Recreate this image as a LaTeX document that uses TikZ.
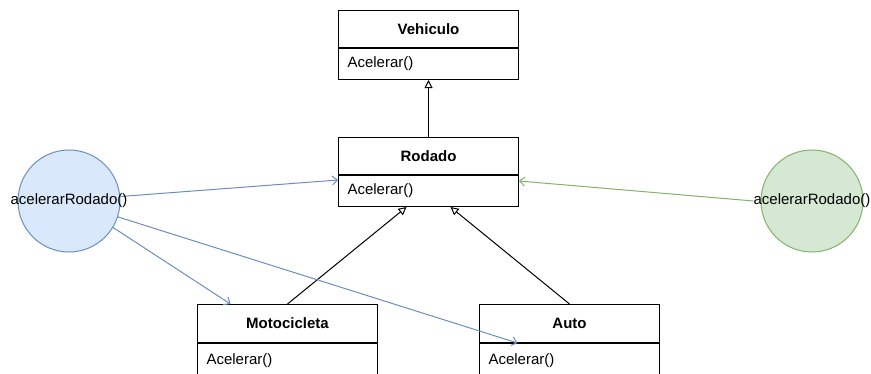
\documentclass[tikz,border=0pt]{standalone}
\usepackage{fontspec}
\setmainfont{Liberation Sans}
\usetikzlibrary{arrows.meta,calc}
\definecolor{bluefill}{HTML}{DAE8FC}
\definecolor{bluestroke}{HTML}{6C8EBF}
\definecolor{greenfill}{HTML}{D5E8D4}
\definecolor{greenstroke}{HTML}{82B366}
\begin{document}
\begin{tikzpicture}[x=1pt,y=-1pt,
  txt/.style={font=\fontsize{15}{18}\selectfont},
  classhead/.style={draw=black, line width=1pt, fill=white, minimum width=180pt,
    minimum height=37pt, inner sep=0pt, anchor=north west,
    font=\fontsize{15}{18}\selectfont\bfseries},
  classbody/.style={draw=black, line width=1pt, fill=white, minimum height=31pt,
    text width=162pt, inner xsep=9pt, inner ysep=0pt, align=left, anchor=north west,
    font=\fontsize{15}{18}\selectfont},
  inherit/.style={draw=black, line width=1pt, -{Triangle[open,length=8pt,width=8pt]}},
  calls/.style={line width=1pt, -{Straight Barb[length=5pt,width=9pt]}},
  callcircle/.style={circle, minimum size=102pt, inner sep=0pt, line width=1pt},
]
\useasboundingbox (0,0) rectangle (871,373);
\clip (0,0) rectangle (871,373);

% classes
\node[classhead] (veht) at (338,10) {Vehiculo};
\node[classbody] (vehm) at (veht.south west) {Acelerar()};
\node[classhead] (rodt) at (338,137) {Rodado};
\node[classbody] (rodm) at (rodt.south west) {Acelerar()};
\node[classhead, minimum height=38pt] (motot) at (197,304) {Motocicleta};
\node[classbody, minimum height=40pt, text depth=8pt] (motom) at (motot.south west) {Acelerar()};
\node[classhead, minimum height=38pt] (autot) at (479,304) {Auto};
\node[classbody, minimum height=40pt, text depth=8pt] (autom) at (autot.south west) {Acelerar()};

% callers
\node[callcircle, draw=bluestroke, fill=bluefill] (bc) at (69,201) {};
\node[callcircle, draw=greenstroke, fill=greenfill] (gc) at (812,201) {};

% generalisation
\draw[inherit] (rodt.north) -- (vehm.south);
\draw[inherit] (motot.north) -- ($(rodm.south)+(-22,0)$);
\draw[inherit] (autot.north) -- ($(rodm.south)+(22,0)$);

% calls
\node[txt, inner sep=0pt] (gt) at (gc.center) {acelerarRodado()};
\draw[calls, draw=bluestroke] (bc.5) -- ($(rodm.north west)+(0,5)$);
\draw[calls, draw=bluestroke] (bc.-31) -- ($(motot.north)+(-57,0)$);
\draw[calls, draw=bluestroke] (bc.-18) -- ($(autom.north)+(-52,0)$);
\draw[calls, draw=greenstroke] (gt.west) -- ($(rodm.north east)+(0,6)$);
\node[txt, inner sep=0pt] (bt) at (bc.center) {acelerarRodado()};
\end{tikzpicture}
\end{document}
